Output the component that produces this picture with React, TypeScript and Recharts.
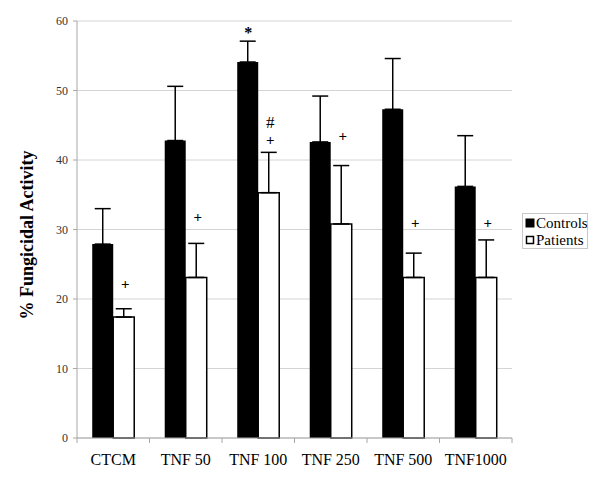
// Fungicidal activity, controls vs patients
import { BarChart, Bar, XAxis, YAxis, CartesianGrid, ErrorBar, ReferenceDot } from "recharts";

const categories = ["CTCM", "TNF 50", "TNF 100", "TNF 250", "TNF 500", "TNF1000"];
const controls = [27.9, 42.8, 54.1, 42.6, 47.3, 36.2];
const controlsErr = [5.1, 7.8, 3.0, 6.6, 7.3, 7.3];
const patients = [17.4, 23.1, 35.3, 30.8, 23.1, 23.1];
const patientsErr = [1.2, 4.9, 5.8, 8.4, 3.5, 5.4];
// "+" marks above the patient bars (significant vs controls)
const plusY = [22.1, 31.8, 42.9, 43.5, 30.9, 30.9];
const yTicks = [0, 10, 20, 30, 40, 50, 60];

const data = categories.map((c, i) => ({
  name: c,
  controls: controls[i],
  patients: patients[i],
  cErr: [0, controlsErr[i]],
  pErr: [0, patientsErr[i]],
}));

const FONT = "'Liberation Serif', 'Times New Roman', serif";
const BAND = 435 / 6;

const XTick = (props: any) => {
  const { x, y, payload, index } = props;
  const last = index === categories.length - 1;
  return (
    <g>
      <line x1={x - BAND / 2} x2={x - BAND / 2} y1={y - 8} y2={y - 3} stroke="#a8a8a8" />
      {last && <line x1={x + BAND / 2} x2={x + BAND / 2} y1={y - 8} y2={y - 3} stroke="#a8a8a8" />}
      <text x={x} y={y + 19} textAnchor="middle" fontFamily={FONT} fontSize={16} fill="#000">
        {payload.value}
      </text>
    </g>
  );
};

const mark = (s: string, dx: number, size: number, bold = true) => (p: any) => (
  <text
    x={p.cx + dx}
    y={p.cy}
    textAnchor="middle"
    dominantBaseline="central"
    fontFamily={FONT}
    fontSize={size}
    fontWeight={bold ? "bold" : "normal"}
    fill="#000"
    stroke="none"
  >
    {s}
  </text>
);

// legend drawn as a small svg so it uses the same serif font as the chart
const LegendBox = () => (
  <svg style={{ position: "absolute", left: 522, top: 213 }} width={66} height={36}>
    <rect x={0.5} y={0.5} width={65} height={35} fill="#fff" stroke="#c8c8c8" />
    <rect x={4} y={6} width={8} height={8} fill="#000" stroke="#000" />
    <text x={14} y={15} fontFamily={FONT} fontSize={15} fill="#000">Controls</text>
    <rect x={4.5} y={23.5} width={7} height={7} fill="#fff" stroke="#000" strokeWidth={1.5} />
    <text x={14} y={32} fontFamily={FONT} fontSize={15} fill="#000">Patients</text>
  </svg>
);

export default function App() {
  return (
    <div style={{ position: "absolute", left: 0, top: 0, width: 600, height: 489 }}>
      <BarChart
        width={600}
        height={489}
        data={data}
        margin={{ top: 21, right: 88, bottom: 0, left: 37 }}
        barCategoryGap="21%"
        barGap={0}
      >
        <CartesianGrid horizontal vertical={false} stroke="#d4d4d4" />
        <XAxis
          dataKey="name"
          axisLine={{ stroke: "#a8a8a8" }}
          tickLine={false}
          tick={<XTick />}
          interval={0}
          height={51}
        />
        <YAxis
          domain={[0, 60]}
          ticks={yTicks}
          width={40}
          axisLine={{ stroke: "#a8a8a8" }}
          tickLine={{ stroke: "#a8a8a8" }}
          tickSize={4}
          tickMargin={5}
          tick={{ fontFamily: FONT, fontSize: 12, fill: "#333" }}
          label={{
            content: ({ viewBox }: any) => (
              <text
                x={viewBox.x - 10}
                y={235}
                transform={`rotate(-90, ${viewBox.x - 10}, 235)`}
                textAnchor="middle"
                dominantBaseline="central"
                fontFamily={FONT}
                fontSize={18}
                fontWeight="bold"
                fill="#000"
              >
                % Fungicidal Activity
              </text>
            ),
          }}
        />
        <YAxis
          yAxisId="r"
          orientation="right"
          domain={[0, 60]}
          width={0}
          tick={false}
          tickLine={false}
          axisLine={{ stroke: "#c8c8c8" }}
        />
        <Bar dataKey="controls" name="Controls" fill="#000" isAnimationActive={false}>
          <ErrorBar dataKey="cErr" direction="y" width={8} stroke="#000" strokeWidth={1.5} />
        </Bar>
        <Bar dataKey="patients" name="Patients" fill="#fff" stroke="#000" strokeWidth={1.5} isAnimationActive={false}>
          <ErrorBar dataKey="pErr" direction="y" width={8} stroke="#000" strokeWidth={1.5} />
        </Bar>
        {categories.map((c, i) => (
          <ReferenceDot key={c} x={c} y={plusY[i]} r={0} shape={mark("+", 12, 15)} />
        ))}
        <ReferenceDot x="TNF 100" y={45.4} r={0} shape={mark("#", 12, 17, false)} />
        <ReferenceDot x="TNF 100" y={58.3} r={0} shape={mark("*", -10, 16)} />
      </BarChart>
      <LegendBox />
    </div>
  );
}
